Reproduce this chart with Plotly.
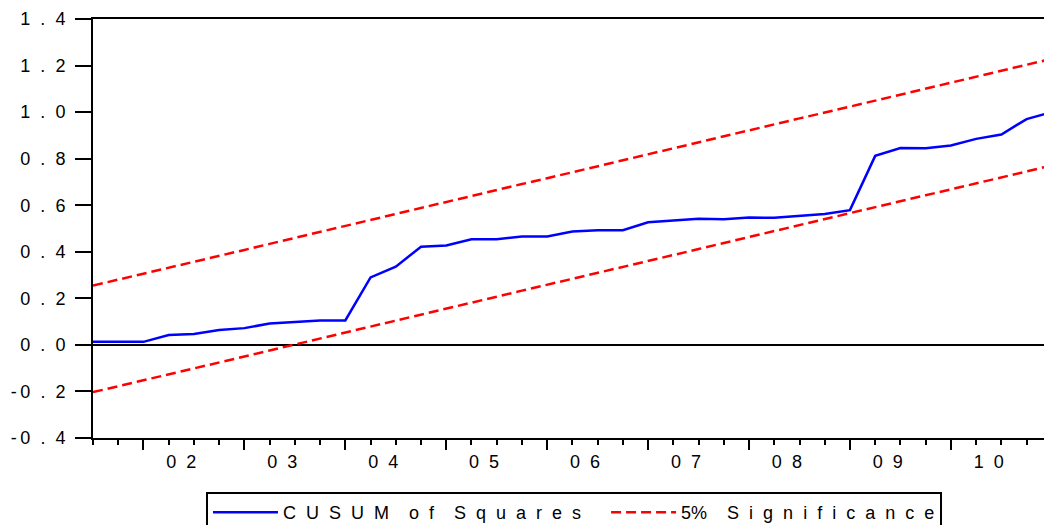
import plotly.graph_objects as go

# ---------------- data ----------------
quarters = [
    "2001Q3", "2001Q4",
    "2002Q1", "2002Q2", "2002Q3", "2002Q4",
    "2003Q1", "2003Q2", "2003Q3", "2003Q4",
    "2004Q1", "2004Q2", "2004Q3", "2004Q4",
    "2005Q1", "2005Q2", "2005Q3", "2005Q4",
    "2006Q1", "2006Q2", "2006Q3", "2006Q4",
    "2007Q1", "2007Q2", "2007Q3", "2007Q4",
    "2008Q1", "2008Q2", "2008Q3", "2008Q4",
    "2009Q1", "2009Q2", "2009Q3", "2009Q4",
    "2010Q1", "2010Q2", "2010Q3", "2010Q4",
    "2011Q1",
]

cusum_sq = [
    0.013, 0.013,
    0.013, 0.042, 0.047, 0.064,
    0.072, 0.092, 0.097, 0.105,
    0.105, 0.290, 0.336, 0.422,
    0.427, 0.454, 0.454, 0.466,
    0.466, 0.487, 0.493, 0.493,
    0.527, 0.534, 0.542, 0.540,
    0.547, 0.546, 0.555, 0.562,
    0.579, 0.812, 0.846, 0.845,
    0.857, 0.885, 0.904, 0.970,
    1.000,
]

upper_5 = [
    0.255, 0.280,
    0.306, 0.332, 0.357, 0.383,
    0.408, 0.434, 0.460, 0.485,
    0.511, 0.537, 0.562, 0.588,
    0.614, 0.639, 0.665, 0.691,
    0.716, 0.742, 0.767, 0.793,
    0.819, 0.844, 0.870, 0.896,
    0.921, 0.947, 0.973, 0.998,
    1.024, 1.050, 1.075, 1.101,
    1.126, 1.152, 1.178, 1.203,
    1.229,
]

lower_5 = [
    -0.203, -0.178,
    -0.152, -0.126, -0.101, -0.075,
    -0.050, -0.024, 0.002, 0.027,
    0.053, 0.079, 0.104, 0.130,
    0.156, 0.181, 0.207, 0.233,
    0.258, 0.284, 0.309, 0.335,
    0.361, 0.386, 0.412, 0.438,
    0.463, 0.489, 0.515, 0.540,
    0.566, 0.592, 0.617, 0.643,
    0.668, 0.694, 0.720, 0.745,
    0.771,
]

year_labels = ["02", "03", "04", "05", "06", "07", "08", "09", "10"]
y_tick_values = [-0.4, -0.2, 0.0, 0.2, 0.4, 0.6, 0.8, 1.0, 1.2, 1.4]
legend_names = ["CUSUM of Squares", "5% Significance"]

# ---------------- helpers ----------------
NB = "\u00a0"
GAP = NB * 2


def spaced(s):
    words = []
    for w in s.split(" "):
        if w.endswith("%"):
            words.append(GAP.join(w[:-1]) + "%")
        else:
            words.append(GAP.join(w))
    return (GAP * 2).join(words)


def spaced_num(v):
    body = GAP.join(f"{abs(v):.1f}")
    return ("-\u2009" + body) if v < 0 else body


x_pos = list(range(len(quarters)))
year_starts = [i for i, q in enumerate(quarters) if q.endswith("Q1")]
label_pos = [i + 1.5 for i in year_starts][: len(year_labels)]
x_range = [0, 37.69]

FONT = "Liberation Sans, Arial, sans-serif"
FS = 18

fig = go.Figure()
fig.add_trace(go.Scatter(
    x=x_pos, y=cusum_sq, mode="lines",
    name=spaced(legend_names[0]) + NB * 4,
    line=dict(color="#0000FF", width=2.5),
))
fig.add_trace(go.Scatter(
    x=x_pos, y=upper_5, mode="lines",
    name=spaced(legend_names[1]),
    line=dict(color="#FF0000", width=2.5, dash="10px,5px"),
))
fig.add_trace(go.Scatter(
    x=x_pos, y=lower_5, mode="lines",
    name=spaced(legend_names[1]), showlegend=False,
    line=dict(color="#FF0000", width=2.5, dash="10px,5px"),
))
# empty trace so that the label axis (x2) is drawn
fig.add_trace(go.Scatter(
    x=[None], y=[None], xaxis="x2", yaxis="y", mode="lines",
    showlegend=False, hoverinfo="skip",
))

fig.update_layout(
    width=1044, height=525,
    margin=dict(l=93, r=0, t=19, b=87, autoexpand=False),
    paper_bgcolor="white", plot_bgcolor="white",
    font=dict(family=FONT, size=FS, color="black"),
    showlegend=True,
    legend=dict(
        orientation="h", x=0.1188, xanchor="left", y=-0.1289, yanchor="top",
        bordercolor="black", borderwidth=2, bgcolor="white",
        itemwidth=65,
        font=dict(family=FONT, size=FS, color="black"),
    ),
    xaxis=dict(
        range=x_range, showgrid=False, zeroline=False, automargin=False,
        showline=True, linecolor="black", linewidth=2, mirror=True,
        tickvals=year_starts, ticks="outside", ticklen=10, tickwidth=2,
        tickcolor="black", showticklabels=False,
        minor=dict(tickvals=x_pos, ticks="outside", ticklen=5, tickwidth=2,
                   tickcolor="black", showgrid=False),
    ),
    xaxis2=dict(
        range=x_range, overlaying="x", anchor="y", side="bottom",
        showgrid=False, zeroline=False, showline=False, automargin=False,
        tickvals=label_pos, ticktext=[spaced(l) for l in year_labels],
        ticks="", ticklabelstandoff=11,
        tickfont=dict(family=FONT, size=FS, color="black"),
    ),
    yaxis=dict(
        range=[-0.4, 1.4], showgrid=False, automargin=False,
        zeroline=True, zerolinecolor="black", zerolinewidth=2,
        showline=True, linecolor="black", linewidth=2, mirror=False,
        tickvals=y_tick_values,
        ticktext=[spaced_num(v) for v in y_tick_values],
        ticks="outside", ticklen=16, tickwidth=2, tickcolor="black",
        ticklabelstandoff=6,
        tickfont=dict(family=FONT, size=FS, color="black"),
    ),
)

PAGE_FIX = (
    "var s='margin:0;padding:0;overflow:hidden;width:1044px;height:525px;';"
    "document.documentElement.style.cssText=s;"
    "document.body.style.cssText=s;"
)

fig.write_html(
    "out.html",
    config={"displayModeBar": False},
    post_script=PAGE_FIX,
)
